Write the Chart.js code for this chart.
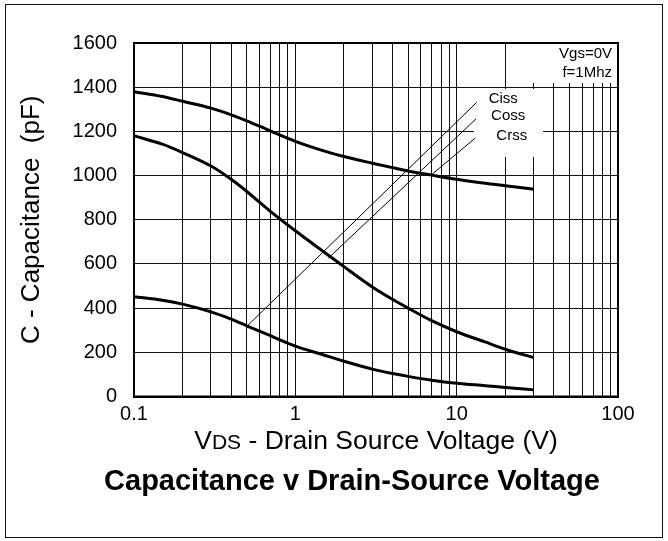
<!DOCTYPE html>
<html>
<head>
<meta charset="utf-8">
<script src="https://cdn.jsdelivr.net/npm/chart.js@4"></script>
<style>
    body { margin: 0; background: #fff; }
    canvas { display: block; }
</style>
</head>
<body>
<canvas id="capacitanciaChart" width="668" height="541"></canvas>
<script>
// valores (V, pF)
const vds  = [0.1, 0.15, 0.2, 0.3, 0.4, 0.5, 0.7, 1, 1.5, 2, 3, 4, 5, 7, 10, 15, 20, 30];
const ciss = [1380, 1358, 1336, 1305, 1275, 1248, 1202, 1155, 1112, 1086, 1056, 1036, 1021, 1002, 983, 965, 954, 938];
const coss = [1180, 1142, 1104, 1043, 983, 928, 838, 750, 655, 588, 496, 440, 400, 343, 293, 247, 214, 176];
const crss = [452, 436, 418, 383, 350, 320, 275, 228, 188, 160, 124, 104, 91, 74, 60, 49, 41, 30];

// linhas finas que ligam as legendas as curvas
const leaderNames = ['Ciss', 'Coss', 'Crss'];
const leaderX = [[0.5, 13.3], [1.6, 13.2], [6.96, 13.06]];
const leaderY = [[317, 1331], [626, 1257], [1003, 1170]];

const xDecades = [0.1, 1, 10];
const xTickLabels = ['0.1', '1', '10', '100'];
const yTicks = [0, 200, 400, 600, 800, 1000, 1200, 1400, 1600];

const conditions = ['Vgs=0V', 'f=1Mhz'];
const xTitle = ['V', 'DS', ' - Drain Source Voltage (V)'];
const yTitle = 'C - Capacitance  (pF)';
const chartTitle = 'Capacitance v Drain-Source Voltage';

const FONT = '"Liberation Sans", Arial, Helvetica, sans-serif';

function pontos(xs, ys) {
    return xs.map((x, i) => ({ x: x, y: ys[i] }));
}

function gradeLog() {
    let valores = [];
    xDecades.forEach(d => {
        for (let k = 1; k <= 9; k++) valores.push(Math.round(d * k * 1000) / 1000);
    });
    valores.push(100);
    return valores;
}

const moldura = {
    id: 'moldura',
    beforeDraw(chart) {
        const ctx = chart.ctx;
        ctx.save();
        ctx.fillStyle = '#fff';
        ctx.fillRect(0, 0, chart.width, chart.height);
        ctx.strokeStyle = '#111';
        ctx.lineWidth = 1;
        ctx.strokeRect(5.5, 4.5, 657, 533);
        ctx.restore();
    },
    beforeDatasetsDraw(chart) {
        // caixas brancas atras dos textos, escondem a grade
        const ctx = chart.ctx;
        const a = chart.chartArea;
        ctx.save();
        ctx.fillStyle = '#fff';
        ctx.fillRect(474, 89, 69, 68);
        ctx.fillRect(522, a.top + 1, a.right - 523, 82 - a.top);
        ctx.restore();
    },
    afterDraw(chart) {
        const ctx = chart.ctx;
        const a = chart.chartArea;
        const sx = chart.scales.x;
        const sy = chart.scales.y;
        ctx.save();
        ctx.strokeStyle = '#000';
        ctx.lineWidth = 2;
        ctx.strokeRect(a.left, a.top, a.right - a.left, a.bottom - a.top);

        ctx.fillStyle = '#000';
        ctx.textBaseline = 'alphabetic';

        // legendas das curvas
        ctx.font = '15px ' + FONT;
        ctx.textAlign = 'left';
        const desloc = [[12, 1], [15, 1], [21, 2]];
        leaderNames.forEach((nome, i) => {
            const px = sx.getPixelForValue(leaderX[i][1]);
            const py = sy.getPixelForValue(leaderY[i][1]);
            ctx.fillText(nome, px + desloc[i][0], py + desloc[i][1]);
        });

        // condicoes de teste
        ctx.textAlign = 'right';
        ctx.fillText(conditions[0], a.right - 6, 58);
        ctx.fillText(conditions[1], a.right - 6, 77);

        // titulo do eixo x com subscrito menor
        const big = '26.5px ' + FONT;
        const small = '21px ' + FONT;
        ctx.font = big;
        let w0 = ctx.measureText(xTitle[0]).width;
        let w2 = ctx.measureText(xTitle[2]).width;
        ctx.font = small;
        let w1 = ctx.measureText(xTitle[1]).width;
        let x = (a.left + a.right) / 2 - (w0 + w1 + w2) / 2;
        const base = 449;
        ctx.textAlign = 'left';
        ctx.font = big;
        ctx.fillText(xTitle[0], x, base);
        ctx.font = small;
        ctx.fillText(xTitle[1], x + w0, base);
        ctx.font = big;
        ctx.fillText(xTitle[2], x + w0 + w1, base);

        // titulo do grafico
        ctx.font = 'bold 29px ' + FONT;
        ctx.textAlign = 'center';
        ctx.fillText(chartTitle, 352, 490);
        ctx.restore();
    }
};

function construirGrafico() {
    const curvas = [
        { label: 'Ciss', data: pontos(vds, ciss) },
        { label: 'Coss', data: pontos(vds, coss) },
        { label: 'Crss', data: pontos(vds, crss) }
    ].map(d => Object.assign(d, {
        borderColor: '#000',
        borderWidth: 3,
        pointRadius: 0,
        fill: false,
        cubicInterpolationMode: 'monotone'
    }));

    const guias = leaderNames.map((nome, i) => ({
        label: nome + ' guia',
        data: pontos(leaderX[i], leaderY[i]),
        borderColor: '#000',
        borderWidth: 1,
        pointRadius: 0,
        fill: false
    }));

    const ctx = document.getElementById('capacitanciaChart').getContext('2d');

    new Chart(ctx, {
        type: 'line',
        data: { datasets: curvas.concat(guias) },
        plugins: [moldura],
        options: {
            responsive: false,
            animation: false,
            devicePixelRatio: 1,
            layout: { padding: { top: 43, right: 50, left: 0, bottom: 0 } },
            plugins: {
                legend: { display: false },
                tooltip: { enabled: false },
                title: { display: false }
            },
            scales: {
                x: {
                    type: 'logarithmic',
                    min: 0.1,
                    max: 100,
                    afterBuildTicks: scale => {
                        scale.ticks = gradeLog().map(v => ({ value: v }));
                    },
                    afterFit: scale => { scale.height = 144.5; },
                    ticks: {
                        autoSkip: false,
                        maxRotation: 0,
                        padding: 6,
                        color: '#000',
                        font: { family: FONT, size: 20 },
                        callback: function(value) {
                            let s = String(value);
                            return xTickLabels.includes(s) ? s : '';
                        }
                    },
                    grid: { color: '#111', lineWidth: 1, drawTicks: false },
                    border: { color: '#000', width: 2 }
                },
                y: {
                    min: 0,
                    max: 1600,
                    afterBuildTicks: scale => {
                        scale.ticks = yTicks.map(v => ({ value: v }));
                    },
                    afterFit: scale => { scale.width = 134; },
                    ticks: {
                        padding: 17,
                        color: '#000',
                        font: { family: FONT, size: 20 },
                        callback: value => String(value)
                    },
                    grid: { color: '#111', lineWidth: 1, drawTicks: false },
                    border: { color: '#000', width: 2 },
                    title: {
                        display: true,
                        text: yTitle,
                        color: '#000',
                        font: { family: FONT, size: 26 },
                        padding: { top: 16, bottom: 0 }
                    }
                }
            }
        }
    });
}

construirGrafico();
</script>
</body>
</html>
